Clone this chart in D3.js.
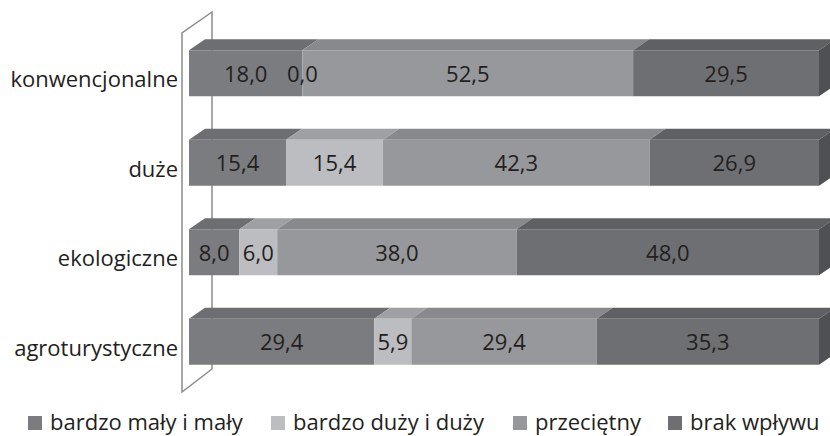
<!DOCTYPE html>
<html><head><meta charset="utf-8">
<script src="https://cdn.jsdelivr.net/npm/d3@7"></script>
<style>body{margin:0;background:#fff}svg{display:block}</style>
</head><body>
<svg id="c" width="830" height="436"></svg>
<script>
const categories = ["konwencjonalne", "duże", "ekologiczne", "agroturystyczne"];
const seriesNames = ["bardzo mały i mały", "bardzo duży i duży", "przeciętny", "brak wpływu"];
const s1 = [18.0, 15.4, 8.0, 29.4];
const s2 = [0.0, 15.4, 6.0, 5.9];
const s3 = [52.5, 42.3, 38.0, 29.4];
const s4 = [29.5, 26.9, 48.0, 35.3];
const frontColors = ["#7b7c7f", "#bcbdc0", "#97989b", "#6e6f72"];
const topColors = ["#6d6e71", "#9fa0a3", "#88898c", "#5f6063"];
const sideColor = "#4f5053";

const svg = d3.select("#c");
const font = "'Open Sans', sans-serif";
const x = d3.scaleLinear().domain([0, 100]).range([189, 819]);
const y = d3.scaleBand().domain(categories).range([28.5, 386.5]).paddingInner(0.486).paddingOuter(0.243);
const dx = 16, dy = 11;

// wall
svg.append("path")
  .attr("d", "M212,12 L182,33 L182,392 L212,369 Z")
  .attr("fill", "none").attr("stroke", "#8c8c8c").attr("stroke-width", 1.5);

const series = [s1, s2, s3, s4];
categories.forEach((cat, i) => {
  const y0 = y(cat), h = y.bandwidth(), y1 = y0 + h;
  let acc = 0;
  const segs = series.map((s, k) => { const a = acc; acc += s[i]; return {k, a, b: acc, v: s[i]}; });
  const g = svg.append("g");
  segs.forEach(sg => {
    const xa = x(sg.a), xb = x(sg.b);
    if (xb - xa <= 0) return;
    g.append("polygon")
      .attr("points", [[xa, y0], [xb, y0], [xb + dx, y0 - dy], [xa + dx, y0 - dy]].join(" "))
      .attr("fill", topColors[sg.k]);
  });
  const last = segs[segs.length - 1];
  const xe = x(last.b);
  g.append("polygon")
    .attr("points", [[xe, y0], [xe + dx, y0 - dy], [xe + dx, y1 - dy], [xe, y1]].join(" "))
    .attr("fill", sideColor);
  segs.forEach(sg => {
    const xa = x(sg.a), xb = x(sg.b);
    if (xb - xa <= 0) return;
    g.append("rect").attr("x", xa).attr("y", y0).attr("width", xb - xa).attr("height", h)
      .attr("fill", frontColors[sg.k]);
  });
  segs.forEach(sg => {
    g.append("text").attr("x", (x(sg.a) + x(sg.b)) / 2).attr("y", y0 + h / 2 + 8.5)
      .attr("text-anchor", "middle").attr("font-family", font).attr("font-size", 22)
      .attr("fill", "#231f20").text(sg.v.toFixed(1).replace(".", ","));
  });
  svg.append("text").attr("x", 178).attr("y", y0 + h / 2 + 14)
    .attr("text-anchor", "end").attr("font-family", font).attr("font-size", 22)
    .attr("fill", "#231f20").text(cat);
});

// legend
const legX = [28, 271, 513, 668];
seriesNames.forEach((n, k) => {
  svg.append("rect").attr("x", legX[k]).attr("y", 416).attr("width", 14).attr("height", 14)
    .attr("fill", frontColors[k]);
  svg.append("text").attr("x", legX[k] + 22).attr("y", 430).attr("font-family", font)
    .attr("font-size", 22).attr("fill", "#231f20").text(n);
});
</script>
</body></html>
